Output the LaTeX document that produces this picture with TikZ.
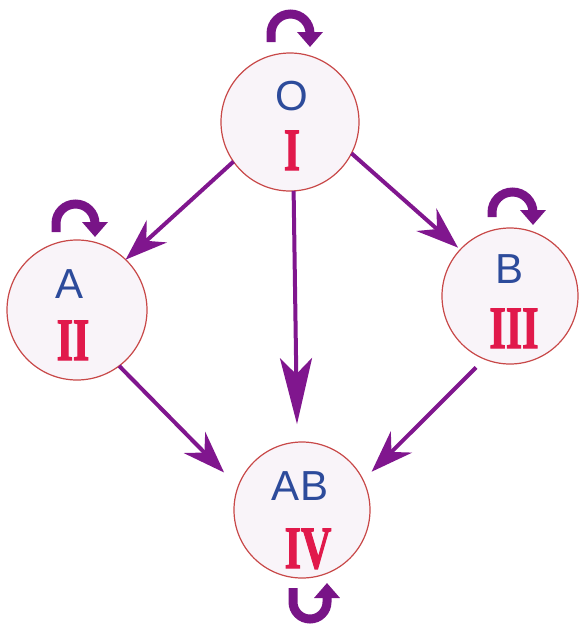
\documentclass[tikz,border=0pt]{standalone}
\usepackage{fontspec}
\setmainfont{Liberation Serif}
\newfontfamily\labfont{Liberation Sans}
\newfontfamily\romfont[FakeBold=2.2]{Liberation Serif Bold}
\usetikzlibrary{arrows.meta}
\definecolor{arrowpurple}{RGB}{128,22,142}
\definecolor{looppurple}{RGB}{120,20,135}
\definecolor{ringred}{RGB}{200,72,72}
\definecolor{ringfill}{RGB}{249,244,249}
\definecolor{labblue}{RGB}{45,75,155}
\definecolor{numred}{RGB}{225,25,75}
\newcommand{\romnum}[1]{\scalebox{0.7}[1]{\romfont #1}}
\begin{document}
\begin{tikzpicture}[x=1pt,y=-1pt,
  group/.style={circle, draw=ringred, fill=ringfill, line width=1.2pt, inner sep=0pt, outer sep=0pt, minimum size=138pt},
  blood/.style={font=\labfont\fontsize{42}{42}\selectfont, text=labblue, anchor=base, inner sep=0pt},
  roman/.style={font=\fontsize{60}{60}\selectfont, text=numred, anchor=base, inner sep=0pt},
  link/.style={draw=arrowpurple, line width=4pt, -{Stealth[length=42pt,width=30pt,inset=14pt]}},
  linkv/.style={draw=arrowpurple, line width=4pt, -{Stealth[length=66pt,width=32pt,inset=16pt]}},
  selfloop/.style={draw=looppurple, line width=9pt, -{Triangle[length=15pt,width=25pt]}}]
\useasboundingbox (0,0) rectangle (580,625);

% circles
\node[group] (O)  at (290,122) {};
\node[group, minimum size=140pt] (A)  at (77,310) {};
\node[group, minimum size=136pt] (B)  at (510,296) {};
\node[group, minimum size=136pt] (AB) at (302,510) {};

% labels
\node[blood] (Ol)  at (292,110) {O};
\node[roman] (On)  at (292,170) {\romnum{I}};
\node[blood] (Al)  at (70,298) {A};
\node[roman] (An)  at (73,360) {\romnum{II}};
\node[blood] (Bl)  at (510,283) {B};
\node[roman] (Bn)  at (514,348) {\romnum{III}};
\node[blood] (ABl) at (300,500) {AB};
\node[roman] (ABn) at (308,568) {\romnum{IV}};

% connectors
\draw[link] (O.215) -- (A.46);
\draw[link, shorten >=3pt] (O.-27) -- (B.137);
\draw[linkv, shorten >=18pt] (O.-87) -- (AB.94);
\draw[link, shorten >=20pt] (A.-53) -- (AB.160);
\draw[link, shorten <=12pt, shorten >=12pt] (B.-112) -- (AB.26);

% self loops
\draw[selfloop] (271,42) -- (271,33.5) arc[start angle=180, end angle=360, radius=19.5] -- (310,47);
\draw[selfloop] (56,232) -- (56,223.5) arc[start angle=180, end angle=360, radius=19.5] -- (95,237);
\draw[selfloop] (492,217) -- (492,212.5) arc[start angle=180, end angle=360, radius=20.5] -- (533,225);
\draw[selfloop] (293,588) -- (293,602) arc[start angle=180, end angle=0, radius=17] -- (327,583);
\end{tikzpicture}
\end{document}
